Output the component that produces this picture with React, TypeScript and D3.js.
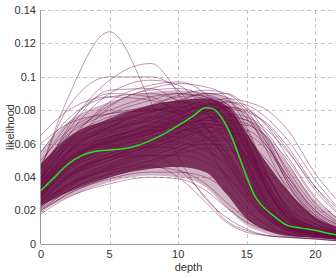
import * as d3 from 'd3';

// depth knots shared by all sampled curves
const knots = [0, 2, 5, 8, 10, 12, 13.5, 15, 16.5, 18, 20, 21.5];

// individual likelihood curves (values at the knots)
const curves: number[][] = [
  [.030, .045, .054, .061, .069, .080, .076, .050, .024, .012, .007, .005],
  [.026, .040, .050, .059, .067, .074, .072, .056, .032, .015, .008, .006],
  [.035, .050, .060, .066, .072, .078, .074, .046, .022, .011, .006, .005],
  [.040, .055, .064, .070, .076, .084, .082, .062, .034, .017, .009, .007],
  [.022, .034, .045, .053, .058, .064, .063, .052, .031, .014, .007, .005],
  [.028, .046, .059, .067, .073, .077, .072, .044, .020, .010, .006, .004],
  [.033, .049, .063, .072, .078, .082, .078, .054, .026, .012, .007, .005],
  [.025, .038, .048, .057, .064, .071, .070, .058, .036, .018, .009, .006],
  [.038, .054, .067, .074, .080, .086, .084, .066, .038, .019, .010, .007],
  [.030, .043, .052, .058, .063, .068, .062, .040, .019, .010, .006, .004],
  [.045, .060, .070, .076, .081, .085, .080, .056, .029, .014, .008, .006],
  [.024, .036, .047, .056, .062, .070, .068, .048, .024, .011, .006, .004],
  [.034, .050, .061, .069, .075, .080, .076, .058, .032, .016, .008, .006],
  [.028, .042, .054, .063, .070, .078, .078, .066, .042, .021, .010, .007],
  [.036, .052, .062, .068, .073, .076, .067, .040, .018, .010, .006, .004],
  [.020, .030, .040, .048, .055, .062, .062, .053, .033, .016, .008, .005],
  [.042, .058, .068, .075, .080, .083, .075, .048, .023, .012, .007, .005],
  [.031, .047, .060, .068, .074, .081, .080, .063, .036, .018, .009, .006],
  [.027, .041, .052, .060, .066, .072, .070, .050, .025, .012, .007, .005],
  [.037, .053, .064, .071, .077, .083, .082, .068, .041, .020, .010, .007],
  [.029, .044, .056, .062, .067, .070, .065, .046, .023, .011, .006, .004],
  [.033, .048, .058, .066, .072, .079, .073, .043, .020, .010, .006, .004],
  [.026, .039, .050, .059, .066, .075, .075, .061, .034, .016, .008, .006],
  [.039, .056, .068, .074, .079, .082, .072, .044, .021, .011, .006, .005],
  [.032, .046, .057, .064, .070, .076, .074, .059, .033, .016, .008, .006],
  [.044, .061, .073, .079, .084, .088, .084, .062, .032, .016, .009, .006],
  [.023, .035, .046, .055, .061, .067, .067, .056, .036, .018, .009, .006],
  [.035, .051, .061, .067, .071, .074, .070, .052, .028, .014, .007, .005],
  [.030, .048, .061, .065, .064, .058, .046, .028, .015, .008, .005, .004],
  [.036, .055, .069, .073, .071, .064, .052, .033, .017, .009, .006, .004],
  [.025, .041, .054, .058, .057, .052, .042, .026, .013, .007, .005, .003],
  [.042, .062, .076, .080, .078, .070, .057, .036, .018, .009, .006, .004],
  [.028, .045, .058, .062, .061, .056, .048, .033, .018, .009, .006, .004],
  [.033, .052, .066, .070, .069, .064, .055, .037, .020, .010, .006, .004],
  [.046, .066, .078, .081, .078, .069, .054, .033, .017, .009, .006, .004],
  [.022, .036, .048, .053, .053, .049, .041, .028, .015, .008, .005, .004],
  [.039, .059, .073, .076, .073, .065, .051, .031, .016, .008, .005, .004],
  [.031, .050, .064, .068, .066, .060, .049, .030, .015, .008, .005, .003],
  [.030, .042, .052, .059, .065, .071, .074, .072, .060, .036, .015, .009],
  [.036, .050, .061, .068, .074, .079, .081, .078, .062, .038, .017, .010],
  [.025, .036, .046, .054, .060, .066, .069, .068, .058, .040, .019, .011],
  [.038, .052, .063, .071, .077, .083, .087, .085, .080, .068, .042, .027],
  [.028, .040, .050, .057, .063, .069, .072, .071, .064, .050, .027, .016],
  [.033, .046, .057, .064, .070, .075, .077, .074, .063, .044, .022, .013],
  [.024, .035, .045, .052, .058, .063, .066, .065, .056, .038, .018, .010],
  [.034, .048, .060, .069, .075, .080, .082, .079, .072, .058, .034, .020],
  [.029, .041, .052, .061, .067, .073, .076, .074, .066, .048, .024, .014],
  [.037, .051, .062, .069, .075, .081, .085, .083, .075, .062, .038, .023],
  [.045, .088, .127, .085, .052, .027, .016, .009, .005, .004, .003, .002],
  [.040, .070, .098, .108, .090, .060, .040, .022, .011, .006, .004, .003],
  [.045, .082, .100, .100, .092, .070, .050, .030, .016, .009, .005, .004],
  [.038, .065, .090, .098, .095, .080, .062, .040, .022, .012, .007, .005],
  [.042, .068, .092, .093, .085, .070, .055, .035, .019, .010, .006, .004],
  [.035, .060, .085, .095, .097, .090, .078, .055, .030, .015, .008, .006],
  [.048, .072, .090, .088, .078, .064, .052, .036, .020, .011, .006, .004],
  [.030, .055, .082, .092, .093, .088, .080, .062, .036, .018, .010, .007],
  [.055, .075, .088, .090, .086, .078, .068, .048, .026, .013, .008, .005],
  [.040, .062, .083, .093, .096, .094, .088, .070, .042, .020, .011, .008],
  [.018, .028, .036, .040, .039, .032, .022, .013, .008, .005, .004, .003],
  [.020, .032, .042, .046, .044, .036, .025, .015, .009, .006, .004, .003],
  [.026, .040, .052, .053, .045, .028, .014, .008, .005, .004, .003, .002],
  [.019, .030, .039, .043, .043, .040, .032, .020, .011, .006, .004, .003],
  [.022, .034, .044, .047, .040, .025, .013, .007, .005, .004, .003, .002],
  [.065, .080, .088, .086, .080, .072, .062, .044, .024, .012, .007, .005],
  [.060, .072, .078, .080, .082, .084, .080, .060, .032, .016, .009, .006],
  [.040, .058, .070, .080, .086, .090, .088, .078, .055, .032, .015, .010],
  [.035, .055, .070, .082, .088, .089, .084, .066, .040, .022, .012, .008],
  [.045, .065, .078, .086, .090, .088, .080, .058, .032, .016, .009, .006],
  [.032, .050, .066, .078, .085, .090, .090, .082, .065, .042, .020, .012],
  [.050, .068, .080, .088, .090, .086, .074, .050, .027, .014, .008, .005],
  [.028, .048, .064, .076, .083, .087, .086, .075, .058, .040, .020, .012],
  [.036, .056, .072, .083, .089, .092, .090, .080, .060, .036, .017, .010],
  [.030, .044, .056, .066, .073, .079, .082, .080, .070, .052, .028, .016],
  [.026, .040, .052, .062, .069, .075, .078, .076, .068, .055, .034, .022],
  [.034, .050, .062, .072, .078, .083, .085, .081, .071, .056, .032, .019],
  [.021, .032, .042, .050, .056, .060, .058, .050, .040, .026, .012, .007],
  [.024, .036, .044, .050, .054, .057, .056, .052, .044, .030, .014, .008],
  [.030, .046, .058, .066, .070, .072, .070, .062, .050, .034, .016, .010],
  [.038, .060, .075, .083, .085, .082, .075, .060, .040, .022, .012, .008],
  [.033, .054, .070, .079, .082, .080, .072, .055, .034, .018, .010, .007],
];

// densest part of the bundle, and its looser outer fringe
const coreLow = [.023, .031, .040, .045, .046, .043, .030, .015, .008, .005, .004, .003];
const coreHigh = [.048, .064, .075, .083, .086, .087, .083, .066, .048, .032, .016, .010];
const fringeLow = [.020, .028, .037, .041, .040, .034, .022, .011, .006, .004, .003, .002];
const fringeHigh = [.056, .073, .085, .091, .092, .091, .088, .078, .064, .048, .026, .016];

// mean curve
const meanDepth = [0, 1, 2, 3, 4, 5, 6, 7, 8, 9, 10, 11, 12, 12.5, 13, 13.5, 14, 14.5, 15, 15.5, 16, 17, 18, 19, 20, 21, 21.5];
const meanValue = [.032, .040, .048, .053, .0555, .0563, .057, .0588, .062, .066, .071, .076, .0815, .081, .0775, .071, .062, .051, .040, .030, .024, .0165, .011, .0095, .0082, .0063, .0055];

const xTicks = [0, 5, 10, 15, 20];
const yTicks = [0, 0.02, 0.04, 0.06, 0.08, 0.1, 0.12, 0.14];

const W = 336;
const H = 278;
const m = { left: 41, right: 0, top: 10, bottom: 34 };

export default function App() {
  const x = d3.scaleLinear().domain([0, 21.5]).range([m.left, W - m.right]);
  const y = d3.scaleLinear().domain([0, 0.14]).range([H - m.bottom, m.top]);

  const line = d3
    .line<number>()
    .x((_, i) => x(knots[i]))
    .y((d) => y(d))
    .curve(d3.curveMonotoneX);

  const bandOf = (low: number[]) =>
    d3
      .area<number>()
      .x((_, i) => x(knots[i]))
      .y0((_, i) => y(low[i]))
      .y1((d) => y(d))
      .curve(d3.curveMonotoneX);

  const meanLine = d3
    .line<number>()
    .x((_, i) => x(meanDepth[i]))
    .y((d) => y(d))
    .curve(d3.curveMonotoneX);

  const font = 'Liberation Sans, Arial, sans-serif';
  const fmt = (v: number) => (v === 0 ? '0' : String(+v.toFixed(2)));

  return (
    <svg width={W} height={H} style={{ position: 'absolute', left: 0, top: 0 }} fontFamily={font}>
      <defs>
        <clipPath id="plot">
          <rect x={m.left} y={m.top} width={W - m.left - m.right} height={H - m.top - m.bottom} />
        </clipPath>
      </defs>
      <rect width={W} height={H} fill="#fff" />
      {/* grid */}
      <g stroke="#c8c8c8" strokeDasharray="4,3" strokeWidth={1}>
        {yTicks.filter((t) => t > 0).map((t) => (
          <line key={t} x1={m.left} x2={W} y1={Math.round(y(t)) + 0.5} y2={Math.round(y(t)) + 0.5} />
        ))}
        {xTicks.filter((t) => t > 0).map((t) => (
          <line key={t} x1={Math.round(x(t)) + 0.5} x2={Math.round(x(t)) + 0.5} y1={m.top} y2={H - m.bottom} />
        ))}
      </g>
      <g clipPath="url(#plot)">
        <path d={bandOf(fringeLow)(fringeHigh) ?? ''} fill="#6a0c42" opacity={0.3} />
        <path d={bandOf(coreLow)(coreHigh) ?? ''} fill="#5e0636" opacity={0.75} />
        {curves.map((c, i) => (
          <path key={i} d={line(c) ?? ''} fill="none" stroke="#6a0c42" strokeOpacity={0.42} strokeWidth={1} />
        ))}
        <path d={meanLine(meanValue) ?? ''} fill="none" stroke="#1ee61e" strokeWidth={1.5} />
      </g>
      {/* axes */}
      <g stroke="#9a9a9a" strokeWidth={1}>
        <line x1={m.left - 0.5} x2={m.left - 0.5} y1={m.top} y2={H - m.bottom} />
        <line x1={m.left} x2={W} y1={H - m.bottom + 0.5} y2={H - m.bottom + 0.5} />
      </g>
      <g fontSize={11} fill="#333">
        {yTicks.map((t) => (
          <text key={t} x={m.left - 5} y={y(t)} dy="0.35em" textAnchor="end">
            {fmt(t)}
          </text>
        ))}
        {xTicks.map((t) => (
          <text key={t} x={x(t)} y={H - m.bottom + 14} textAnchor="middle">
            {t}
          </text>
        ))}
        <text x={(m.left + W) / 2} y={H - 7} textAnchor="middle">depth</text>
        <text transform={`translate(14,${(m.top + H - m.bottom) / 2}) rotate(-90)`} textAnchor="middle">
          likelihood
        </text>
      </g>
    </svg>
  );
}
